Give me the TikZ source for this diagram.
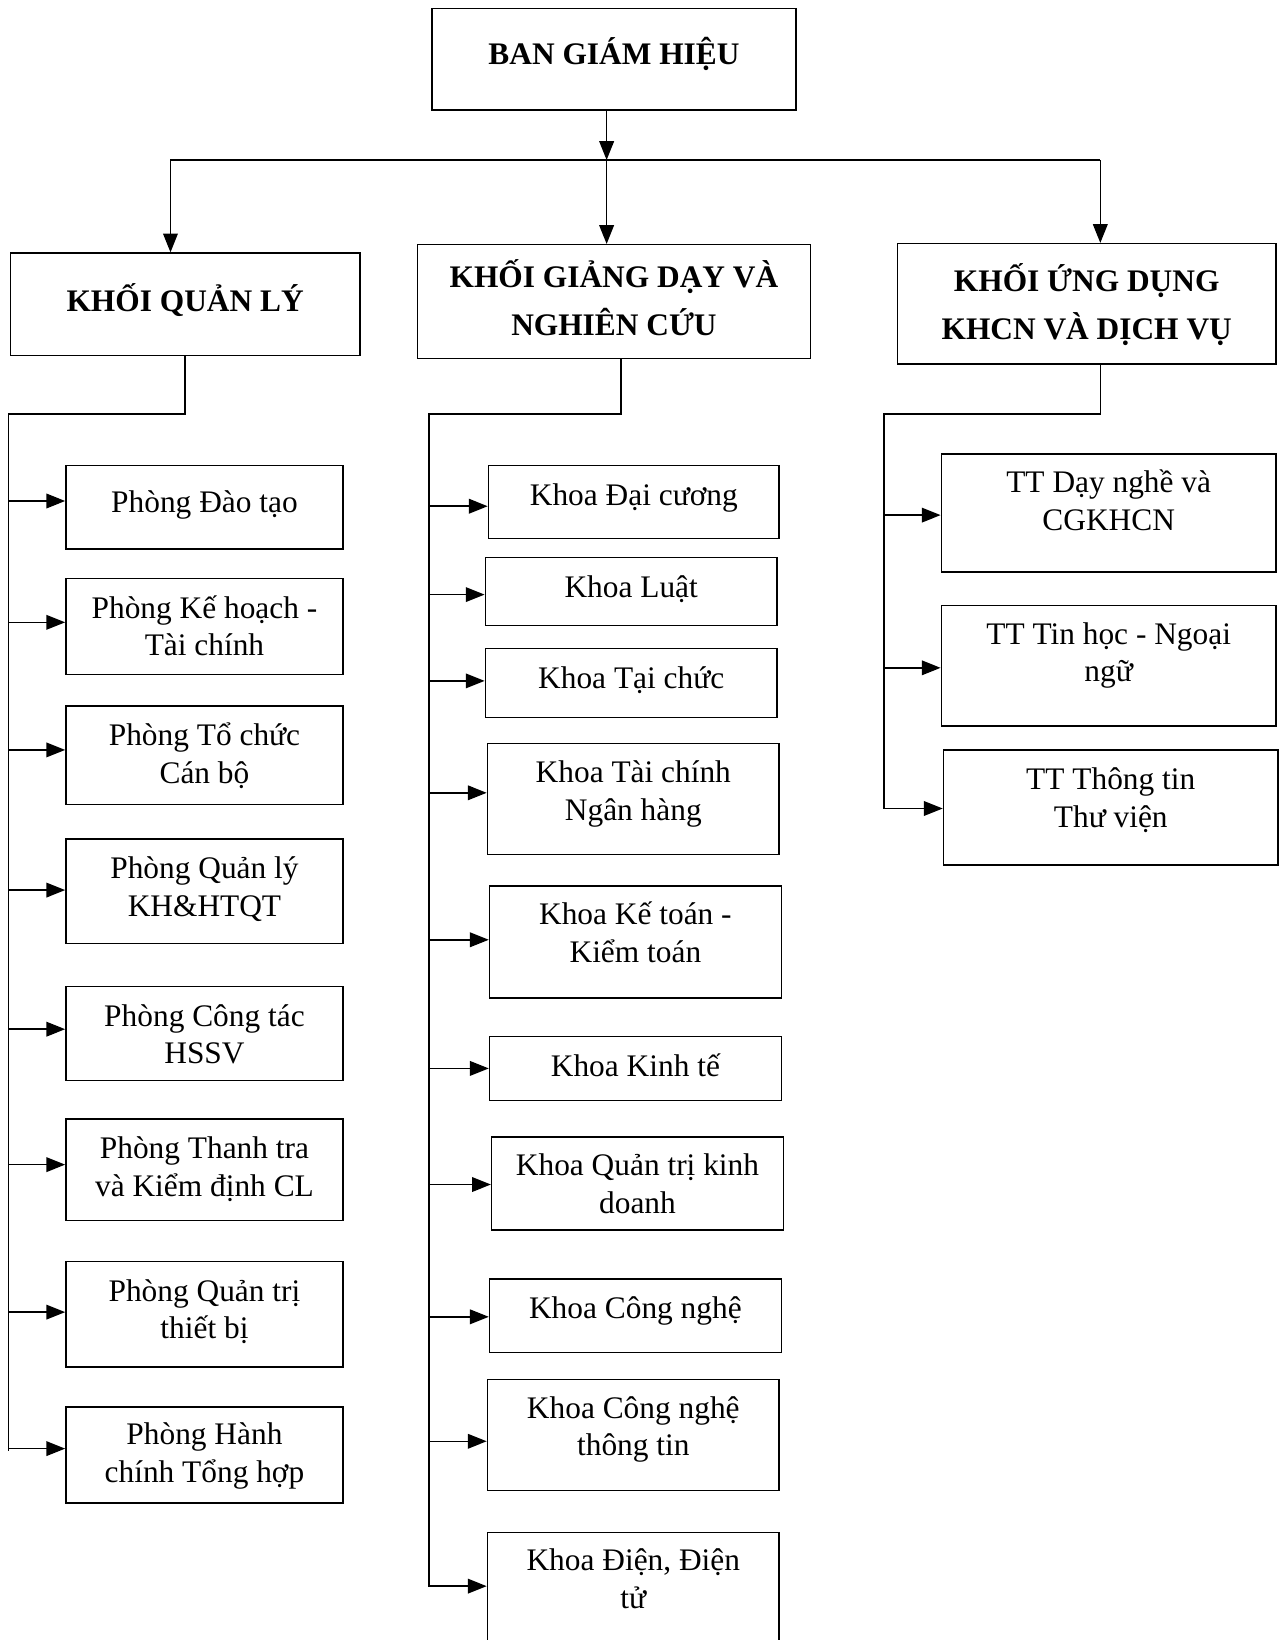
\documentclass[tikz,border=0pt]{standalone}
\usepackage{fontspec}
\setmainfont{Liberation Serif}
\usetikzlibrary{arrows.meta}
\newcommand\txtlines[1]{\vtop{\lineskiplimit=-\maxdimen\halign{\hfil##\hfil\cr#1\crcr}}}
\begin{document}
\begin{tikzpicture}[x=1pt, y=-1pt,
  box/.style={draw, line width=1.4pt, inner sep=0pt, rectangle},
  txt/.style={anchor=base, inner sep=0pt, font=\fontsize{30}{36}\selectfont},
  head/.style={anchor=base, inner sep=0pt, font=\bfseries\fontsize{30}{46}\selectfont},
  conn/.style={line width=1.5pt},
  arr/.style={conn, -{Triangle[length=18pt,width=14pt]}}]
\path[fill=white] (0,0) rectangle (1228,1568);
\useasboundingbox (0,0) rectangle (1228,1568);

% top level
\node[box, minimum width=348pt, minimum height=97pt] (bgh) at (587,56.5) {};
\node[head] (t-bgh) at (587,62) {\txtlines{BAN GIÁM HIỆU}};
\node[box, minimum width=334pt, minimum height=98pt] (kql) at (177,291) {};
\node[head] (t-kql) at (177,298) {\txtlines{KHỐI QUẢN LÝ}};
\node[box, minimum width=376pt, minimum height=109pt] (kgd) at (587,288.5) {};
\node[head] (t-kgd) at (587,275) {\txtlines{KHỐI GIẢNG DẠY VÀ\cr NGHIÊN CỨU}};
\node[box, minimum width=362pt, minimum height=115pt] (kud) at (1039,290.5) {};
\node[head] (t-kud) at (1039,279) {\txtlines{KHỐI ỨNG DỤNG\cr KHCN VÀ DỊCH VỤ}};

\coordinate (j) at (580,153);
\coordinate (jl) at (163,153);
\coordinate (jr) at (1052,153);
\draw[arr] (bgh.south -| j) -- (j);
\draw[conn] (jl) -- (jr);
\draw[arr] (jl) -- (jl |- kql.north);
\draw[arr] (j) -- (j |- kgd.north);
\draw[arr] (jr) -- (jr |- kud.north);

% left column
\node[box, minimum width=265pt, minimum height=80pt] (l1) at (195.5,485) {};
\node[txt] (t-l1) at (195.5,490) {\txtlines{Phòng Đào tạo}};
\node[box, minimum width=265pt, minimum height=92pt] (l2) at (195.5,599) {};
\node[txt] (t-l2) at (195.5,591) {\txtlines{Phòng Kế hoạch -\cr Tài chính}};
\node[box, minimum width=265pt, minimum height=94pt] (l3) at (195.5,722) {};
\node[txt] (t-l3) at (195.5,713) {\txtlines{Phòng Tổ chức\cr Cán bộ}};
\node[box, minimum width=265pt, minimum height=100pt] (l4) at (195.5,852) {};
\node[txt] (t-l4) at (195.5,840) {\txtlines{Phòng Quản lý\cr KH\&HTQT}};
\node[box, minimum width=265pt, minimum height=90pt] (l5) at (195.5,988) {};
\node[txt] (t-l5) at (195.5,981) {\txtlines{Phòng Công tác\cr HSSV}};
\node[box, minimum width=265pt, minimum height=97pt] (l6) at (195.5,1118.5) {};
\node[txt] (t-l6) at (195.5,1108) {\txtlines{Phòng Thanh tra\cr và Kiểm định CL}};
\node[box, minimum width=265pt, minimum height=101pt] (l7) at (195.5,1256.5) {};
\node[txt] (t-l7) at (195.5,1244) {\txtlines{Phòng Quản trị\cr thiết bị}};
\node[box, minimum width=265pt, minimum height=92pt] (l8) at (195.5,1391) {};
\node[txt] (t-l8) at (195.5,1381) {\txtlines{Phòng Hành\cr chính Tổng hợp}};

\coordinate (lt) at (8,396);
\coordinate (lb) at (8,1387);
\draw[conn] (kql.south) |- (lt) -- (lb);
\foreach \n/\dy in {l1/-6,l2/-4,l3/-5,l4/-1,l5/-4,l6/-5,l7/-2,l8/-6}
  \draw[arr] ([yshift=-\dy pt]lt |- \n.west) -- ([yshift=-\dy pt]\n.west);

% middle column
\node[box, minimum width=278pt, minimum height=70pt] (m1) at (606,480) {};
\node[txt] (t-m1) at (606,483) {\txtlines{Khoa Đại cương}};
\node[box, minimum width=279pt, minimum height=65pt] (m2) at (603.5,565.5) {};
\node[txt] (t-m2) at (603.5,571) {\txtlines{Khoa Luật}};
\node[box, minimum width=279pt, minimum height=66pt] (m3) at (603.5,653) {};
\node[txt] (t-m3) at (603.5,658) {\txtlines{Khoa Tại chức}};
\node[box, minimum width=279pt, minimum height=106pt] (m4) at (605.5,764) {};
\node[txt] (t-m4) at (605.5,748) {\txtlines{Khoa Tài chính\cr Ngân hàng}};
\node[box, minimum width=279pt, minimum height=107pt] (m5) at (607.5,900.5) {};
\node[txt] (t-m5) at (607.5,884) {\txtlines{Khoa Kế toán -\cr Kiểm toán}};
\node[box, minimum width=279pt, minimum height=61pt] (m6) at (607.5,1021.5) {};
\node[txt] (t-m6) at (607.5,1029) {\txtlines{Khoa Kinh tế}};
\node[box, minimum width=279pt, minimum height=89pt] (m7) at (609.5,1131.5) {};
\node[txt] (t-m7) at (609.5,1124) {\txtlines{Khoa Quản trị kinh\cr doanh}};
\node[box, minimum width=279pt, minimum height=70pt] (m8) at (607.5,1258) {};
\node[txt] (t-m8) at (607.5,1261) {\txtlines{Khoa Công nghệ}};
\node[box, minimum width=279pt, minimum height=106pt] (m9) at (605.5,1372) {};
\node[txt] (t-m9) at (605.5,1356) {\txtlines{Khoa Công nghệ\cr thông tin}};
\node[box, minimum width=279pt, minimum height=115pt] (m10) at (605.5,1522.5) {};
\node[txt] (t-m10) at (605.5,1502) {\txtlines{Khoa Điện, Điện\cr tử}};

\coordinate (mt) at (410,396);
\coordinate (mb) at (410,1517);
\draw[conn] ([xshift=7pt]kgd.south) |- (mt) -- (mb);
\foreach \n/\dy in {m1/4,m2/3,m3/-2,m4/-6,m5/-2,m6/0,m7/1,m8/1,m9/6,m10/-6}
  \draw[arr] ([yshift=-\dy pt]mt |- \n.west) -- ([yshift=-\dy pt]\n.west);

% right column
\node[box, minimum width=320pt, minimum height=113pt] (r1) at (1060,490.5) {};
\node[txt] (t-r1) at (1060,471) {\txtlines{TT Dạy nghề và\cr CGKHCN}};
\node[box, minimum width=320pt, minimum height=115pt] (r2) at (1060,636.5) {};
\node[txt] (t-r2) at (1060,616) {\txtlines{TT Tin học - Ngoại\cr ngữ}};
\node[box, minimum width=320pt, minimum height=110pt] (r3) at (1062,772) {};
\node[txt] (t-r3) at (1062,755) {\txtlines{TT Thông tin\cr Thư viện}};

\coordinate (rt) at (845,396);
\coordinate (rb) at (845,773);
\draw[conn] ([xshift=13pt]kud.south) |- (rt) -- (rb);
\foreach \n/\dy in {r1/2,r2/2,r3/1}
  \draw[arr] ([yshift=-\dy pt]rt |- \n.west) -- ([yshift=-\dy pt]\n.west);
\end{tikzpicture}
\end{document}
